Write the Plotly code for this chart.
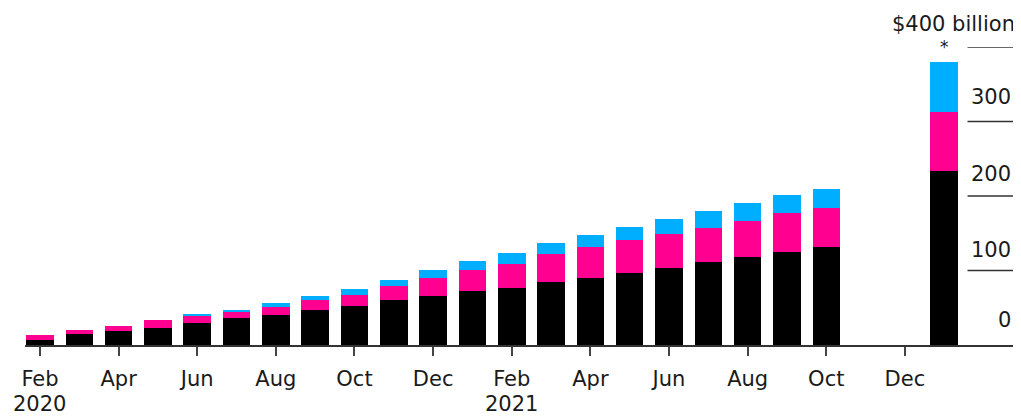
import plotly.graph_objects as go
import pandas as pd

# ---- data (billions of dollars, cumulative stack tops) ----
bar_months = ["2020-02", "2020-03", "2020-04", "2020-05", "2020-06", "2020-07",
              "2020-08", "2020-09", "2020-10", "2020-11", "2020-12", "2021-01",
              "2021-02", "2021-03", "2021-04", "2021-05", "2021-06", "2021-07",
              "2021-08", "2021-09", "2021-10", "2022-01"]
black_top = [7, 15.4, 18.5, 23, 30, 36.4, 40, 47, 53, 60, 66.3, 73,
             76.6, 84, 90, 96, 103.5, 111.5, 118, 125, 131, 233]
pink_top = [13, 20, 26, 33, 38.6, 44.5, 51, 60, 67.7, 78.8, 90.3, 101,
            109, 122, 131, 141, 149.5, 157, 166.5, 177, 184, 313]
blue_top = [13, 20, 26, 33, 41.8, 47.6, 56.5, 65.4, 75.7, 87.8, 100.3, 113.4,
            124, 136.5, 147, 158, 169, 180, 190.6, 202, 210, 379.5]

tick_months = ["2020-02", "2020-04", "2020-06", "2020-08", "2020-10", "2020-12",
               "2021-02", "2021-04", "2021-06", "2021-08", "2021-10", "2021-12"]
tick_text = ["Feb", "Apr", "Jun", "Aug", "Oct", "Dec",
             "Feb", "Apr", "Jun", "Aug", "Oct", "Dec"]
year_months = ["2020-02", "2021-02"]
year_text = ["2020", "2021"]

y_ticks = [0, 100, 200, 300, 400]
y_tick_text = ["0", "100", "200", "300", "$400 billion"]

# ---- derived ----
start = pd.Period("2020-02", freq="M")
def idx(m):
    return (pd.Period(m, freq="M") - start).n

x = [idx(m) for m in bar_months]
black = black_top
pink = [p - b for p, b in zip(pink_top, black_top)]
blue = [u - p for u, p in zip(blue_top, pink_top)]
tickvals = [idx(m) for m in tick_months]

YMAX = 400.0
FONT = "DejaVu Sans, Liberation Sans, Arial, sans-serif"
FS = 21
TXT = "#1a1a1a"

fig = go.Figure()
for vals, col, name in [(black, "#000000", "Black"),
                        (pink, "#FF0090", "Pink"),
                        (blue, "#00AEFF", "Blue")]:
    fig.add_trace(go.Bar(x=x, y=vals, marker=dict(color=col, line=dict(width=0)),
                         width=0.7, name=name, showlegend=False))

# right-side short gridlines
for v in y_ticks[1:]:
    fig.add_shape(type="line", xref="paper", yref="y", x0=0.954, x1=1.0,
                  y0=v, y1=v, line=dict(color="#333333", width=1.5))

# right-side value labels (sit above their lines)
label_y = {0: 33, 100: 127, 200: 229, 300: 333, 400: 431}
for v, t in zip(y_ticks, y_tick_text):
    fig.add_annotation(xref="paper", yref="paper",
                       x=1.004 if v == 400 else 1.0,
                       y=label_y[v] / YMAX, text=t, showarrow=False,
                       xanchor="right", yanchor="middle",
                       font=dict(family=FONT, size=FS, color=TXT))

# year labels under Feb ticks
for m, t in zip(year_months, year_text):
    fig.add_annotation(x=idx(m), xref="x", yref="paper", y=-0.199, text=t,
                       showarrow=False, xanchor="center", yanchor="middle",
                       font=dict(family=FONT, size=FS, color=TXT))

# asterisk above the last bar
fig.add_annotation(x=x[-1], xref="x", yref="paper", y=1.0, text="*",
                   showarrow=False, xanchor="center", yanchor="middle",
                   font=dict(family=FONT, size=17, color=TXT))

fig.update_layout(
    width=1013, height=408,
    margin=dict(l=17, r=8, t=39, b=70.5),
    paper_bgcolor="white", plot_bgcolor="white",
    barmode="stack", bargap=0,
    font=dict(family=FONT, size=FS, color=TXT),
    xaxis=dict(range=[-0.381, 24.75], tickmode="array", tickvals=tickvals,
               ticktext=tick_text, ticks="outside", ticklen=9, tickwidth=1.5,
               tickcolor="#444444", showline=True, linecolor="#333333",
               linewidth=1.5, showgrid=False, zeroline=False,
               ticklabelstandoff=5,
               tickfont=dict(family=FONT, size=FS, color=TXT)),
    yaxis=dict(range=[0, YMAX], showticklabels=False, showgrid=False,
               zeroline=False, showline=False, fixedrange=True),
)

fig.write_html("out.html")
